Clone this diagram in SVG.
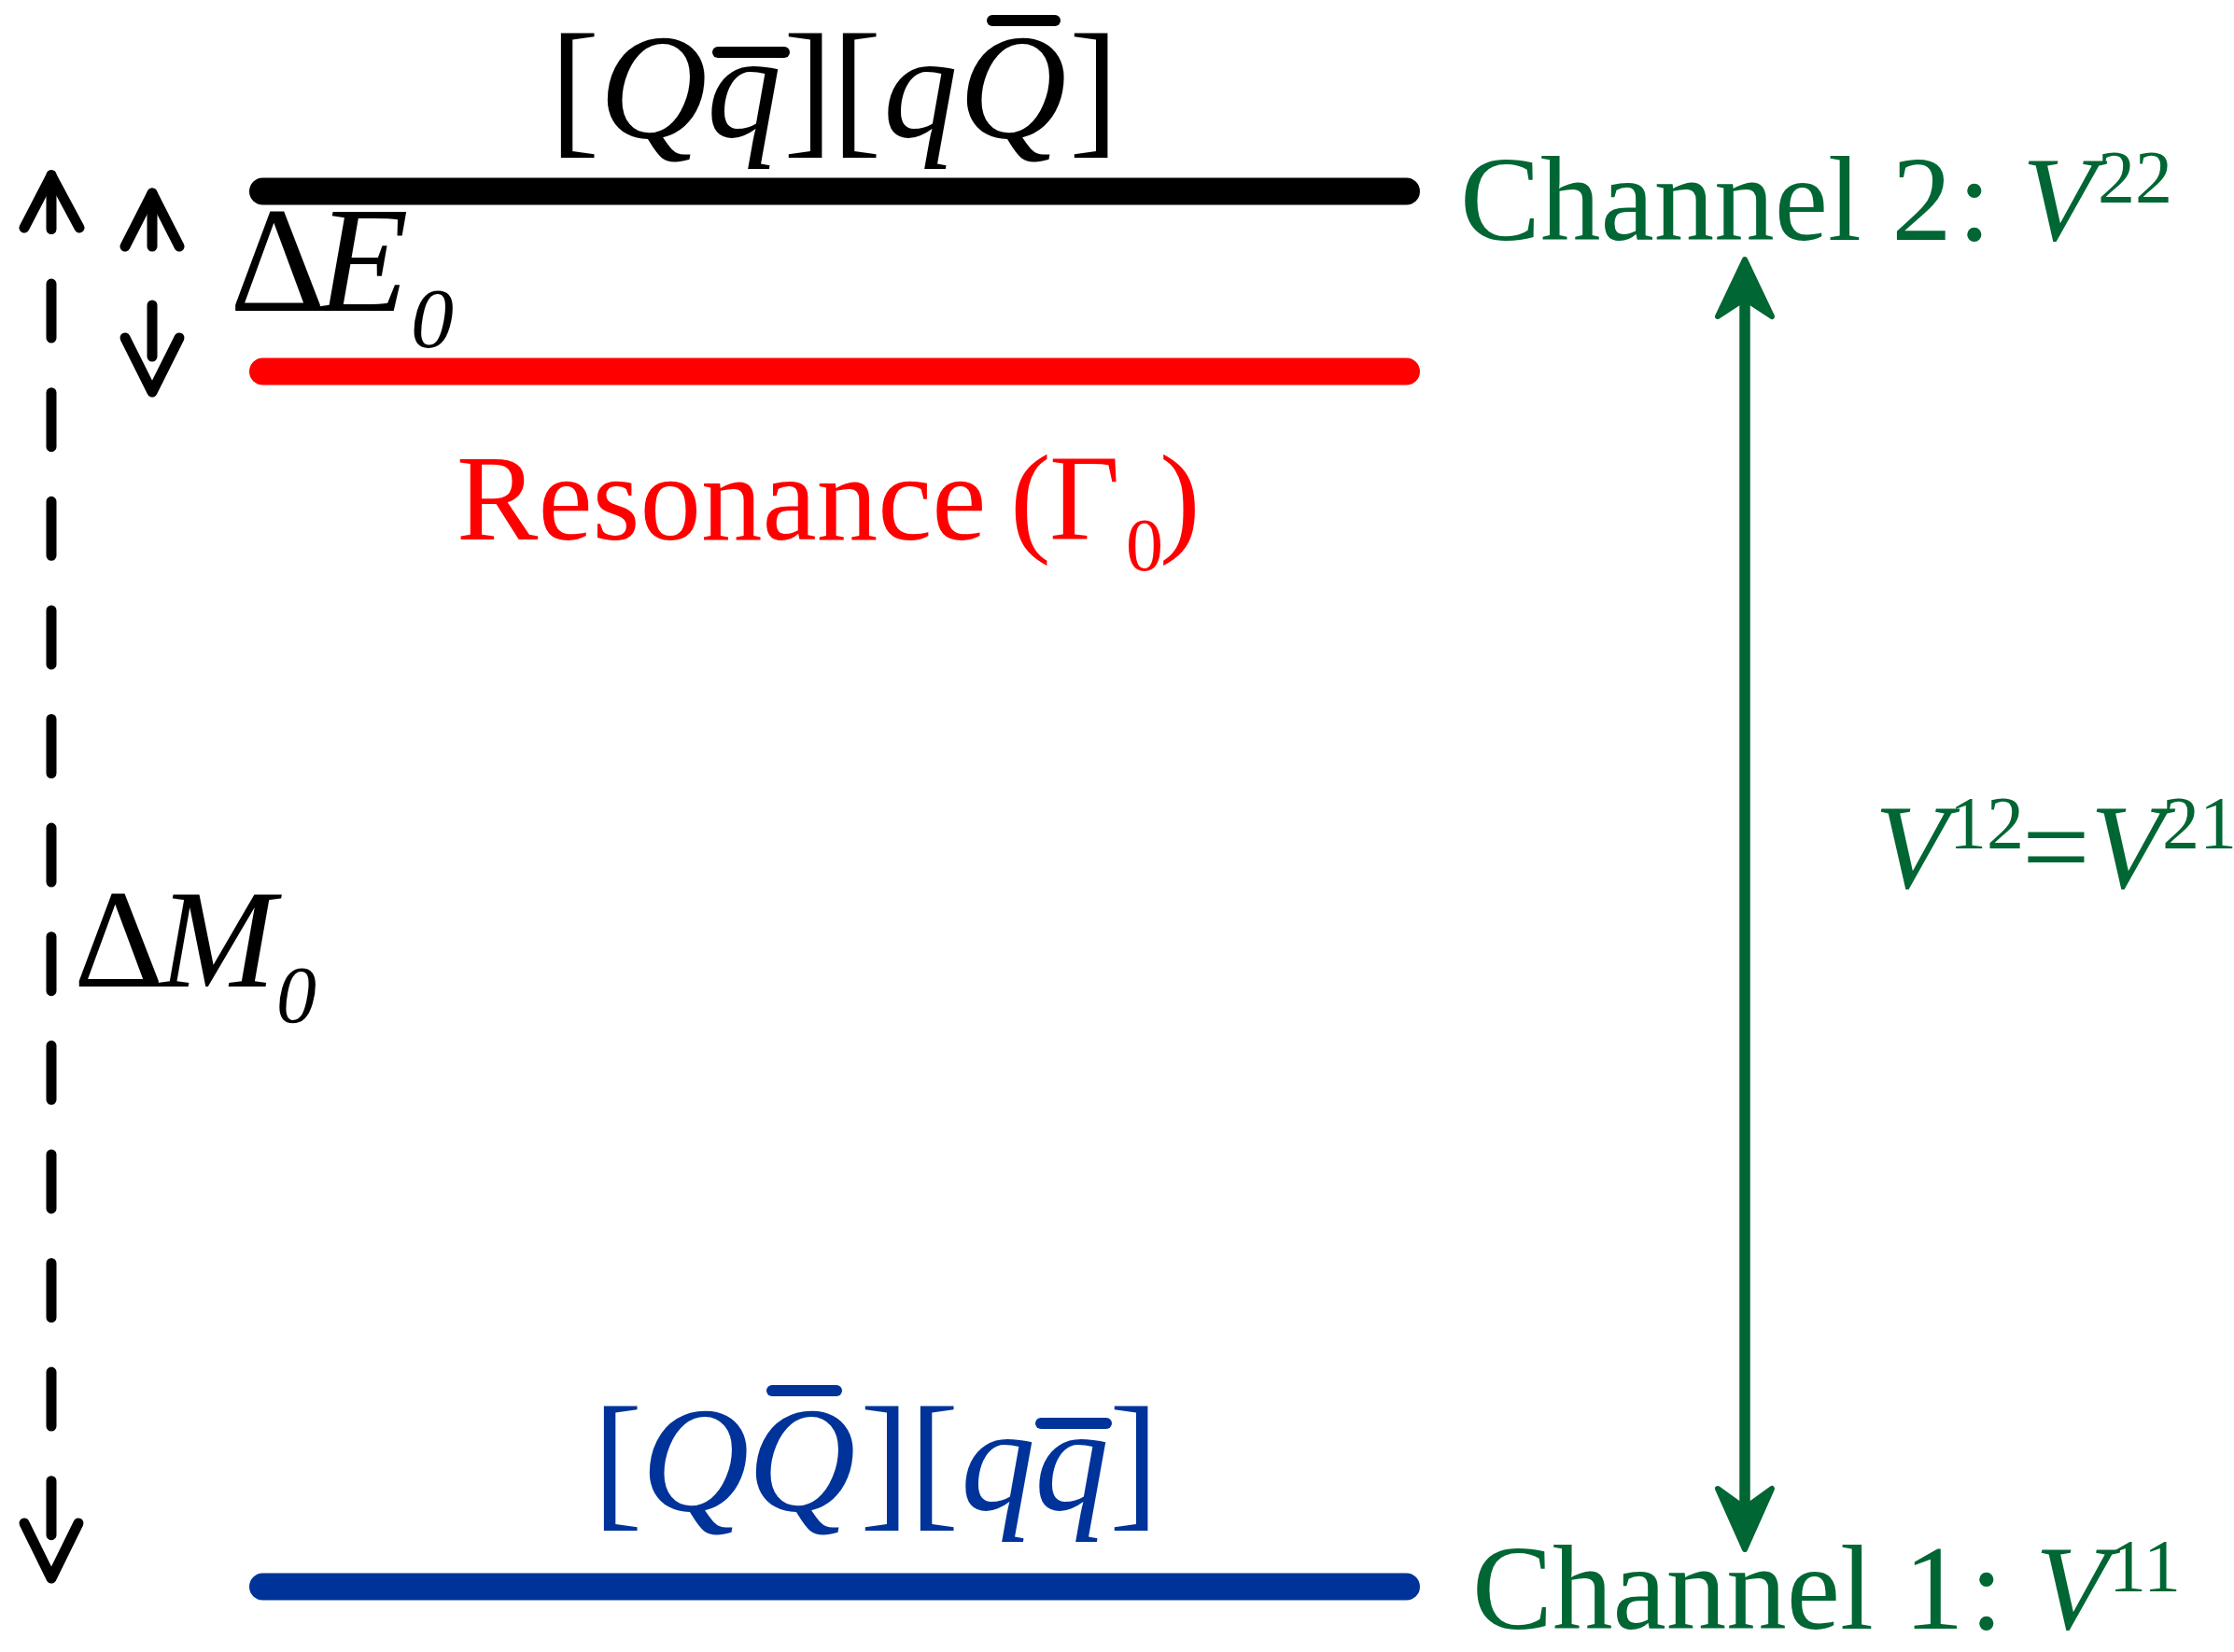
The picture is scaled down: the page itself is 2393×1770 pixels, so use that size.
<svg xmlns="http://www.w3.org/2000/svg" width="2393" height="1770" viewBox="0 0 2393 1770">
<style>
text{font-family:"Liberation Serif","Times New Roman",serif}
.it{font-style:italic}
.lvl{stroke-width:29;stroke-linecap:round;fill:none}
.bar{stroke-width:12;stroke-linecap:round;fill:none}
.blk{stroke:#000;stroke-width:11;stroke-linecap:round;stroke-linejoin:round;fill:none}
.grn{fill:#006633}
.gtxt{fill:#006633;font-size:129px}
</style>
<rect width="2393" height="1770" fill="#fff"/>
<g id="channel2">
<line class="lvl" x1="281.5" y1="205" x2="1506.5" y2="205" stroke="#000"/>
<text font-size="160" y="147" fill="#000"><tspan x="589">[</tspan><tspan class="it" x="642">Q</tspan><tspan class="it" x="757">q</tspan><tspan x="839">]</tspan><tspan x="891">[</tspan><tspan class="it" x="946">q</tspan><tspan class="it" x="1027">Q</tspan><tspan x="1145">]</tspan></text>
<line class="bar" x1="769" y1="56" x2="840" y2="56" stroke="#000"/>
<line class="bar" x1="1063" y1="22" x2="1130" y2="22" stroke="#000"/>
<text class="gtxt" y="257"><tspan x="1564">Channel 2</tspan><tspan x="2097">:</tspan><tspan class="it" x="2166">V</tspan><tspan x="2247" y="217" font-size="80">22</tspan></text>
</g>
<g id="resonance">
<line class="lvl" x1="281.5" y1="398" x2="1506.5" y2="398" stroke="#ff0000"/>
<text font-size="131" y="578" fill="#ff0000"><tspan x="489">Resonance</tspan><tspan x="1082">(</tspan><tspan x="1124">Γ</tspan><tspan x="1206" y="611" font-size="80">0</tspan><tspan x="1242" y="578">)</tspan></text>
</g>
<g id="channel1">
<line class="lvl" x1="281.5" y1="1700" x2="1506.5" y2="1700" stroke="#003399"/>
<text font-size="160" y="1618" fill="#003399"><tspan x="635">[</tspan><tspan class="it" x="687">Q</tspan><tspan class="it" x="801">Q</tspan><tspan x="921">]</tspan><tspan x="974">[</tspan><tspan class="it" x="1029">q</tspan><tspan class="it" x="1108">q</tspan><tspan x="1188">]</tspan></text>
<line class="bar" x1="827" y1="1490" x2="896" y2="1490" stroke="#003399"/>
<line class="bar" x1="1115" y1="1525" x2="1185" y2="1525" stroke="#003399"/>
<text class="gtxt" y="1745"><tspan x="1577">Channel 1</tspan><tspan x="2110">:</tspan><tspan class="it" x="2180">V</tspan><tspan x="2259" y="1705" font-size="80">11</tspan></text>
</g>
<g id="deltaE">
<text font-size="160" y="333" fill="#000"><tspan x="246">Δ</tspan><tspan class="it" x="340">E</tspan><tspan class="it" x="440" y="372" font-size="92">0</tspan></text>
</g>
<g id="deltaM">
<text font-size="150" y="1057" fill="#000"><tspan x="79">Δ</tspan><tspan class="it" x="170">M</tspan><tspan class="it" x="296" y="1095" font-size="86">0</tspan></text>
</g>
<g id="coupling">
<text class="gtxt" y="951"><tspan class="it" x="2008">V</tspan><tspan x="2088" y="909" font-size="80">12</tspan><tspan x="2166" y="951">=</tspan><tspan class="it" x="2239">V</tspan><tspan x="2316" y="909" font-size="80">21</tspan></text>
</g>
<g id="connectors">
<line class="blk" x1="55" y1="187.5" x2="55" y2="1645" stroke-dasharray="58 58.6"/>
<polyline class="blk" points="26,244 55,188 85,244"/>
<polyline class="blk" points="26,1632 55,1691 84,1632"/>
<line class="blk" x1="163" y1="207" x2="163" y2="264"/>
<polyline class="blk" points="134,264 163,207 192,264"/>
<line class="blk" x1="163" y1="327" x2="163" y2="382"/>
<polyline class="blk" points="134,362 163,420 192,362"/>
<line x1="1869" y1="320" x2="1869" y2="1616" stroke="#006633" stroke-width="11.5"/>
<polygon class="grn" points="1869,278 1840,339 1869,320 1898,339" stroke="#006633" stroke-width="6" stroke-linejoin="round"/>
<polygon class="grn" points="1869,1660 1840,1595 1869,1616 1898,1595" stroke="#006633" stroke-width="6" stroke-linejoin="round"/>
</g>
</svg>
